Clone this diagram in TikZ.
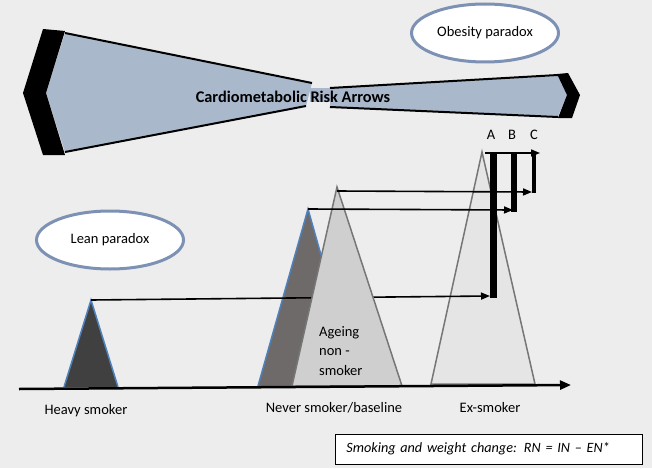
\documentclass[tikz,border=0pt]{standalone}
\usepackage{fontspec}
\setmainfont{Carlito}
\usepackage{xcolor}
\usepackage{tikz}
\usetikzlibrary{shapes.geometric,arrows.meta}
\definecolor{bggray}{RGB}{237,237,237}
\definecolor{wedgeblue}{RGB}{170,184,204}
\definecolor{ovalblue}{RGB}{124,145,180}
\definecolor{heavyfill}{RGB}{64,64,64}
\definecolor{neverfill}{RGB}{110,106,105}
\definecolor{ageingfill}{RGB}{207,207,207}
\definecolor{exfill}{RGB}{229,229,229}
\definecolor{edgeblue}{RGB}{79,129,189}
\definecolor{edgegray}{RGB}{118,118,118}

\begin{document}
\begin{tikzpicture}[x=1pt,y=-1pt,
  oval/.style={ellipse,draw=ovalblue,line width=3pt,fill=white,inner sep=0pt,
    minimum width=147pt,minimum height=58pt,font=\fontsize{14.5}{17}\selectfont},
  txt/.style={font=\fontsize{14.5}{19.5}\selectfont,inner sep=0pt},
  link/.style={line width=1.6pt,-{Triangle[length=9pt,width=7pt]}},
  peak/.style={line width=1.5pt}]
% Background
\fill[bggray] (0,0) rectangle (652,468);
\useasboundingbox (0,0) rectangle (652,468);

% Risk arrows
\fill[wedgeblue] (65,33) -- (312,83) -- (306,106) -- (65,152) -- (46,93) -- cycle;
\fill[wedgeblue] (330,88) -- (558,76) -- (567,95) -- (558,116) -- (330,107) -- cycle;
\fill[wedgeblue] (310,88) rectangle (332,102);
\draw[line width=2pt] (65,33) -- (312,83);
\draw[line width=2pt] (65,152) -- (306,106);
\draw[line width=2pt] (330,88) -- (558,75);
\draw[line width=2pt] (330,107) -- (558,117);
\fill[black] (43,29) -- (65,31) -- (46,93) -- (65,155) -- (43,155) -- (23,93) -- cycle;
\fill[black] (557,74) -- (568,73) -- (580,95) -- (572,118) -- (558,118) -- (567,95) -- cycle;
\node[txt,font=\fontsize{16.3}{19}\selectfont\bfseries] (title) at (293,97) {Cardiometabolic Risk Arrows};

% Paradoxes
\node[oval] (obesity) at (485,33) {Obesity paradox};
\node[oval] (lean) at (110,240) {Lean paradox};

% A B C
\node[txt] (lblA) at (491,135) {A};
\node[txt] (lblB) at (512,135) {B};
\node[txt] (lblC) at (534,135) {C};

% Peaks
\coordinate (extop) at (482,152);
\coordinate (nevertop) at (308,209);
\coordinate (heavytop) at (91,300);
\coordinate (ageingtop) at (337,187);
\coordinate (tipA) at (490,296);
\coordinate (tipB) at (513,210);
\coordinate (tipC) at (532,192);

\filldraw[peak,fill=exfill,draw=edgegray] (431,384) -- (extop) -- (535,384) -- cycle;
\fill[neverfill] (258,386) -- (nevertop) -- (358,386) -- cycle;
\draw[peak,edgeblue] (258,386) -- (nevertop) -- (358,386);
\fill[heavyfill] (64,387) -- (heavytop) -- (118,387) -- cycle;
\draw[peak,edgeblue] (64,387) -- (heavytop) -- (118,387);

\draw[link] (heavytop) -- (tipA);

\filldraw[peak,fill=ageingfill,draw=edgegray] (292,386) -- (ageingtop) -- (402,386) -- cycle;
\node[txt,anchor=west,align=left] (ageing) at (319,351) {Ageing\\non -\\smoker};

\draw[link] (nevertop) -- (tipB);
\draw[link] ([yshift=-4pt]ageingtop) -- (tipC);

% Bars
\draw[line width=7pt] (493,153) -- (493,298);
\draw[line width=6pt] (514,153) -- (514,212);
\draw[line width=4pt] (534,153) -- (534,193);
\draw[link] (485,153) -- (540,153);

% Baseline
\draw[line width=2.5pt,-{Triangle[length=11pt,width=9pt]}] (19,389) -- (571,385);

\node[txt] (heavy) at (86,411) {Heavy smoker};
\node[txt] (never) at (334,408) {Never smoker/baseline};
\node[txt] (ex) at (490,408) {Ex-smoker};

% Legend
\node[draw,fill=white,line width=0.8pt,anchor=west,inner xsep=11pt,inner ysep=0pt,
  text width=285pt,minimum height=30pt,align=left,font=\fontsize{14.2}{17}\selectfont\itshape]
  (legend) at (335,449) {Smoking and weight change: RN = IN \textendash{} EN*};
\end{tikzpicture}
\end{document}
